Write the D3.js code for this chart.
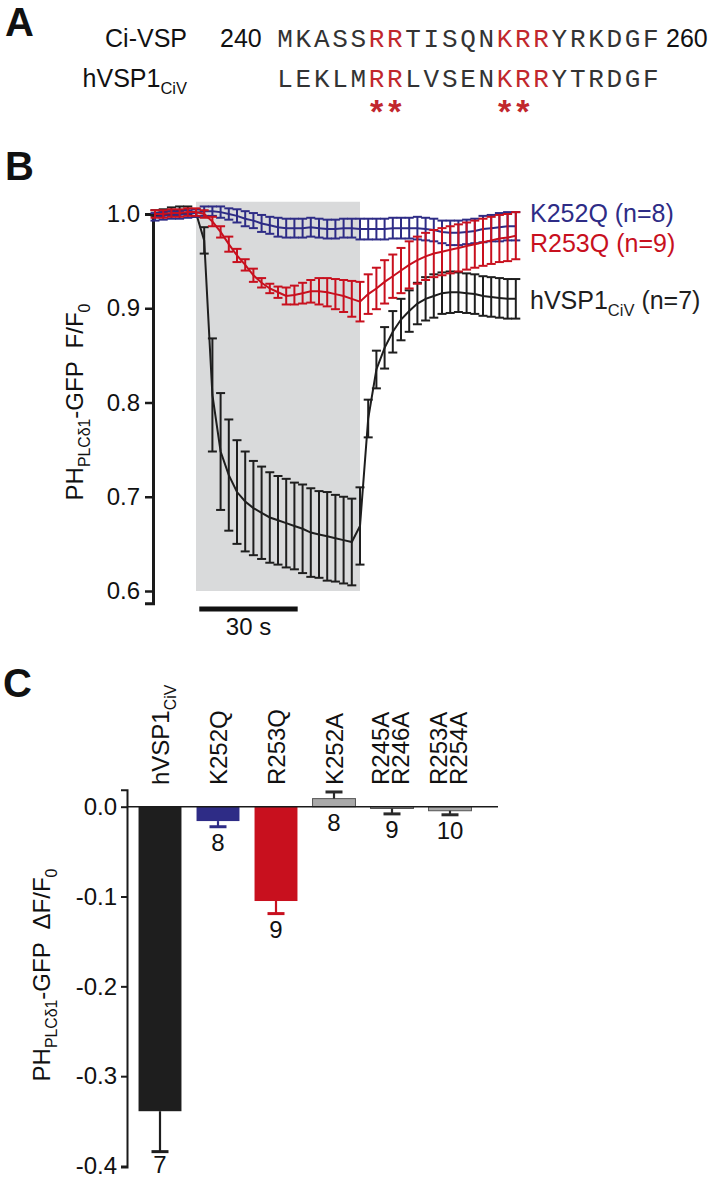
<!DOCTYPE html>
<html>
<head>
<meta charset="utf-8">
<script src="https://cdn.jsdelivr.net/npm/d3@7"></script>
<style>
body { margin: 0; background: #fff; }
svg text { font-family: Arial, "Liberation Sans", Helvetica, sans-serif; }
</style>
</head>
<body>
<svg></svg>
<script>
const size = { w: 726, h: 1178 };
const svg = d3.select("svg").attr("width", size.w).attr("height", size.h);

// ---------- panel A data ----------
const seqNames = ["Ci-VSP", "hVSP1_{CiV}"];
const seqRows = ["MKASSRRTISQNKRRYRKDGF", "LEKLMRRLVSENKRRYTRDGF"];
const seqRedIdx = [5, 6, 12, 13, 14];
const seqStarIdx = [5, 6, 12, 13];
const seqNumbers = ["240", "260"];

// ---------- panel B data (time in s, F/F0) ----------
const times = [-12.5, -10, -7.5, -5, -2.5, 0, 2.5, 5, 7.5, 10, 12.5, 15, 17.5, 20, 22.5, 25, 27.5, 30,
  32.5, 35, 37.5, 40, 42.5, 45, 47.5, 50, 52.5, 55, 57.5, 60, 62.5, 65, 67.5, 70, 72.5, 75, 77.5, 80,
  82.5, 85, 87.5, 90, 92.5, 95, 97.5];
const pulse = [0, 50];
const hvspMean = [1.001, 1.002, 1.003, 1.004, 1.004, 1.001, 0.972, 0.808, 0.748, 0.723, 0.705, 0.695,
  0.688, 0.683, 0.678, 0.675, 0.672, 0.669, 0.666, 0.662, 0.660, 0.658, 0.656, 0.654, 0.652, 0.669,
  0.783, 0.835, 0.858, 0.875, 0.888, 0.897, 0.905, 0.910, 0.913, 0.916, 0.917, 0.917, 0.916, 0.915,
  0.913, 0.912, 0.911, 0.910, 0.910];
const hvspErr = [0.003, 0.003, 0.004, 0.004, 0.004, 0.004, 0.014, 0.060, 0.062, 0.059, 0.055, 0.053,
  0.050, 0.049, 0.048, 0.047, 0.047, 0.046, 0.047, 0.047, 0.046, 0.047, 0.046, 0.046, 0.046, 0.041,
  0.020, 0.020, 0.022, 0.022, 0.022, 0.022, 0.022, 0.023, 0.023, 0.022, 0.022, 0.021, 0.021, 0.021,
  0.021, 0.021, 0.021, 0.021, 0.021];
const k252qMean = [0.997, 0.998, 0.999, 0.999, 1.000, 1.001, 1.003, 1.003, 1.002, 1.000, 0.998, 0.995,
  0.993, 0.990, 0.988, 0.986, 0.985, 0.985, 0.985, 0.986, 0.985, 0.984, 0.984, 0.985, 0.985, 0.984,
  0.984, 0.984, 0.984, 0.985, 0.985, 0.985, 0.985, 0.984, 0.983, 0.981, 0.980, 0.980, 0.981, 0.982,
  0.984, 0.985, 0.986, 0.987, 0.987];
const k252qErr = [0.004, 0.004, 0.004, 0.004, 0.004, 0.004, 0.005, 0.005, 0.006, 0.006, 0.007, 0.008,
  0.008, 0.009, 0.009, 0.010, 0.010, 0.010, 0.010, 0.010, 0.010, 0.010, 0.010, 0.010, 0.010, 0.011,
  0.011, 0.011, 0.011, 0.011, 0.011, 0.011, 0.012, 0.012, 0.012, 0.012, 0.013, 0.013, 0.013, 0.013,
  0.014, 0.014, 0.015, 0.015, 0.015];
const r253qMean = [1.000, 1.000, 1.001, 1.001, 1.002, 1.002, 1.000, 0.992, 0.981, 0.968, 0.956, 0.946,
  0.935, 0.927, 0.921, 0.917, 0.913, 0.914, 0.916, 0.918, 0.918, 0.917, 0.915, 0.913, 0.910, 0.907,
  0.915, 0.921, 0.928, 0.934, 0.940, 0.946, 0.951, 0.955, 0.958, 0.960, 0.962, 0.964, 0.966, 0.968,
  0.970, 0.972, 0.974, 0.975, 0.977];
const r253qErr = [0.004, 0.004, 0.004, 0.004, 0.004, 0.004, 0.004, 0.005, 0.006, 0.008, 0.007, 0.006,
  0.007, 0.005, 0.005, 0.006, 0.009, 0.010, 0.011, 0.012, 0.014, 0.015, 0.016, 0.017, 0.019, 0.021,
  0.021, 0.022, 0.023, 0.023, 0.024, 0.025, 0.025, 0.025, 0.025, 0.025, 0.025, 0.025, 0.025, 0.025,
  0.025, 0.025, 0.025, 0.025, 0.025];
const legendLabels = ["K252Q (n=8)", "R253Q (n=9)", "hVSP1_{CiV} (n=7)"];
const yTicksB = [0.6, 0.7, 0.8, 0.9, 1.0];

// ---------- panel C data ----------
const barNames = ["hVSP1_{CiV}", "K252Q", "R253Q", "K252A", "R245A/R246A", "R253A/R254A"];
const barValues = [-0.339, -0.016, -0.105, 0.009, -0.002, -0.0045];
const barErrors = [0.045, 0.0063, 0.014, 0.0074, 0.006, 0.0045];
const barN = ["7", "8", "9", "8", "9", "10"];
const yTicksC = [0, -0.1, -0.2, -0.3, -0.4];

const colors = { black: "#1e1e1e", blue: "#2e2c86", red: "#c8101e", gray: "#a9a9a9" };
const barColors = [colors.black, colors.blue, colors.red, colors.gray, colors.gray, colors.gray];
const capColors = [colors.black, colors.blue, colors.red, "#2a2a2a", "#2a2a2a", "#2a2a2a"];

// text with "_{...}" subscripts
function addRich(sel, str, fs) {
	const parts = str.split(/(_\{[^}]*\})/).filter((s) => s.length);
	let shifted = false;
	parts.forEach((p) => {
		const isSub = p.startsWith("_{");
		const t = sel.append("tspan").text(isSub ? p.slice(2, -1) : p);
		if (isSub) {
			t.attr("font-size", fs * 0.66).attr("dy", fs * 0.28);
			shifted = true;
		} else if (shifted) {
			t.attr("dy", -fs * 0.28);
			shifted = false;
		}
	});
	return sel;
}

function panelLetter(txt, x, y) {
	svg.append("text").attr("x", x).attr("y", y).attr("font-size", 40)
		.attr("font-weight", "bold").attr("fill", "#111").text(txt);
}

// ================= PANEL A =================
panelLetter("A", 5, 36);
const gA = svg.append("g").classed("panelA", true);
const seqX = d3.scaleBand().domain(d3.range(seqRows[0].length)).range([276, 660]);
const rowY = [47, 87];

seqNames.forEach((name, r) => {
	const t = gA.append("text").attr("x", 187).attr("y", rowY[r]).attr("text-anchor", "end")
		.attr("font-size", 25).attr("fill", "#111");
	addRich(t, name, 25);

	gA.append("g").selectAll("text")
		.data(seqRows[r].split(""))
		.join("text")
		.attr("x", (d, i) => seqX(i) + seqX.bandwidth() / 2)
		.attr("y", rowY[r])
		.attr("text-anchor", "middle")
		.style("font-family", "'Liberation Mono', 'Courier New', 'DejaVu Sans Mono', monospace")
		.attr("font-size", 26)
		.attr("fill", (d, i) => (seqRedIdx.includes(i) ? "#c1272d" : "#333"))
		.text((d) => d);
});
gA.append("text").attr("x", 220).attr("y", rowY[0]).attr("font-size", 25).attr("fill", "#111").text(seqNumbers[0]);
gA.append("text").attr("x", 666).attr("y", rowY[0]).attr("font-size", 25).attr("fill", "#111").text(seqNumbers[1]);
gA.append("g").selectAll("text")
	.data(seqStarIdx)
	.join("text")
	.attr("x", (d) => seqX(d) + seqX.bandwidth() / 2)
	.attr("y", 123)
	.attr("text-anchor", "middle")
	.attr("font-size", 34)
	.attr("font-weight", "bold")
	.attr("fill", "#c1272d")
	.text("*");

// ================= PANEL B =================
panelLetter("B", 5, 180);
const gB = svg.append("g").classed("panelB", true);
const xB = d3.scaleLinear().domain(pulse).range([196, 360]);
const yB = d3.scaleLinear().domain([0.6, 1.0]).range([591, 214]);

// stimulus box
gB.append("rect")
	.attr("x", xB(pulse[0]))
	.attr("y", yB(1.013))
	.attr("width", xB(pulse[1]) - xB(pulse[0]))
	.attr("height", yB(0.6) - yB(1.013))
	.attr("fill", "#d9dadb");

// axis
const yAxisScaleB = yB.copy().domain([0.587, 1.0]).range([yB(0.587), yB(1.0)]);
const axB = gB.append("g")
	.attr("transform", "translate(153,0)")
	.call(d3.axisLeft(yAxisScaleB).tickValues(yTicksB).tickFormat(d3.format(".1f"))
		.tickSizeOuter(0).tickSize(8).tickPadding(5));
axB.select(".domain").attr("stroke", "#1a1a1a").attr("stroke-width", 3);
axB.selectAll(".tick line").attr("stroke", "#1a1a1a").attr("stroke-width", 2.5);
axB.selectAll(".tick text").attr("font-size", 24).attr("fill", "#111");

const ytB = gB.append("text")
	.attr("transform", "translate(83,402) rotate(-90)")
	.attr("text-anchor", "middle").attr("font-size", 24).attr("fill", "#111")
	.style("white-space", "pre");
addRich(ytB, "PH_{PLCδ1}-GFP  F/F_{0}", 24);

// traces (black under blue under red)
const series = [
	{ mean: hvspMean, err: hvspErr, color: colors.black },
	{ mean: k252qMean, err: k252qErr, color: colors.blue },
	{ mean: r253qMean, err: r253qErr, color: colors.red },
];
const lineB = d3.line().x((d) => xB(d.t)).y((d) => yB(d.m));
series.forEach((s) => {
	const pts = times.map((t, i) => ({ t: t, m: s.mean[i], e: s.err[i] }));
	const g = gB.append("g").attr("stroke", s.color).attr("fill", "none");
	g.append("path").attr("d", lineB(pts)).attr("stroke-width", 2);
	const eb = g.selectAll("g.eb").data(pts).join("g").classed("eb", true).attr("stroke-width", 2);
	eb.append("line")
		.attr("x1", (d) => xB(d.t)).attr("x2", (d) => xB(d.t))
		.attr("y1", (d) => yB(d.m + d.e)).attr("y2", (d) => yB(d.m - d.e));
	eb.append("line")
		.attr("x1", (d) => xB(d.t) - 4.5).attr("x2", (d) => xB(d.t) + 4.5)
		.attr("y1", (d) => yB(d.m + d.e)).attr("y2", (d) => yB(d.m + d.e));
	eb.append("line")
		.attr("x1", (d) => xB(d.t) - 4.5).attr("x2", (d) => xB(d.t) + 4.5)
		.attr("y1", (d) => yB(d.m - d.e)).attr("y2", (d) => yB(d.m - d.e));
});

// scale bar
gB.append("line").attr("x1", xB(1)).attr("x2", xB(31)).attr("y1", 609).attr("y2", 609)
	.attr("stroke", "#111").attr("stroke-width", 5);
gB.append("text").attr("x", (xB(1) + xB(31)) / 2).attr("y", 635).attr("text-anchor", "middle")
	.attr("font-size", 24).attr("fill", "#111").text("30 s");

// legend
const legendY = [222, 252, 309];
legendLabels.forEach((lab, i) => {
	const t = gB.append("text").attr("x", 530).attr("y", legendY[i]).attr("font-size", 25)
		.attr("fill", [colors.blue, colors.red, colors.black][i]);
	addRich(t, lab, 25);
});

// ================= PANEL C =================
panelLetter("C", 3, 697);
const gC = svg.append("g").classed("panelC", true);
const xC = d3.scaleBand().domain(barNames).range([131, 479]).paddingInner(0.26).paddingOuter(0.13);
const yC = d3.scaleLinear().domain([-0.4, 0]).range([1166, 806.7]);

const yAxisScaleC = yC.copy().domain([-0.401, 0.019]).range([yC(-0.401), yC(0.019)]);
const fmtC = (d) => d3.format(".1f")(d).replace("−", "-");
const axC = gC.append("g")
	.attr("transform", "translate(127,0)")
	.call(d3.axisLeft(yAxisScaleC).tickValues(yTicksC).tickFormat(fmtC)
		.tickSizeOuter(0).tickSize(6).tickPadding(4));
axC.select(".domain").attr("stroke", "#1a1a1a").attr("stroke-width", 2);
axC.selectAll(".tick line").attr("stroke", "#1a1a1a").attr("stroke-width", 2);
axC.selectAll(".tick text").attr("font-size", 24).attr("fill", "#111");

const ytC = gC.append("text")
	.attr("transform", "translate(50,975) rotate(-90)")
	.attr("text-anchor", "middle").attr("font-size", 24).attr("fill", "#111")
	.style("white-space", "pre");
addRich(ytC, "PH_{PLCδ1}-GFP  ΔF/F_{0}", 24);

const barData = barNames.map((n, i) => ({
	name: n, v: barValues[i], e: barErrors[i], n: barN[i], fill: barColors[i], cap: capColors[i],
}));
const bw = xC.bandwidth();
const cx = (d) => xC(d.name) + bw / 2;
const tip = (d) => (d.v >= 0 ? d.v + d.e : d.v - d.e);

gC.selectAll("rect.bar")
	.data(barData)
	.join("rect")
	.classed("bar", true)
	.attr("x", (d) => xC(d.name))
	.attr("width", bw)
	.attr("y", (d) => yC(Math.max(0, d.v)))
	.attr("height", (d) => Math.abs(yC(d.v) - yC(0)))
	.attr("fill", (d) => d.fill)
	.attr("stroke", (d) => (d.fill === colors.gray ? "#555" : "none"))
	.attr("stroke-width", 1);

const ebC = gC.selectAll("g.ebc").data(barData).join("g").classed("ebc", true)
	.attr("stroke", (d) => d.cap);
ebC.append("line")
	.attr("x1", cx).attr("x2", cx)
	.attr("y1", (d) => yC(d.v)).attr("y2", (d) => yC(tip(d)))
	.attr("stroke-width", 2.2);
ebC.append("line")
	.attr("x1", (d) => cx(d) - 8.5).attr("x2", (d) => cx(d) + 8.5)
	.attr("y1", (d) => yC(tip(d))).attr("y2", (d) => yC(tip(d)))
	.attr("stroke-width", 3);

// zero line
gC.append("line").attr("x1", 127).attr("x2", 498).attr("y1", yC(0)).attr("y2", yC(0))
	.attr("stroke", "#1a1a1a").attr("stroke-width", 1.5);

// n labels
gC.selectAll("text.n")
	.data(barData)
	.join("text")
	.classed("n", true)
	.attr("x", cx)
	.attr("y", (d) => Math.min(Math.max(yC(0), yC(tip(d))) + 24, size.h - 5))
	.attr("text-anchor", "middle")
	.attr("font-size", 24)
	.attr("fill", "#111")
	.text((d) => d.n);

// rotated category labels
barData.forEach((d) => {
	const lines = d.name.split("/");
	const offs = lines.length === 1 ? [9] : [-3, 17];
	lines.forEach((ln, j) => {
		const t = gC.append("text")
			.attr("transform", `translate(${cx(d) + offs[j]},785) rotate(-90)`)
			.attr("font-size", 24).attr("fill", "#111");
		addRich(t, ln, 24);
	});
});
</script>
</body>
</html>
